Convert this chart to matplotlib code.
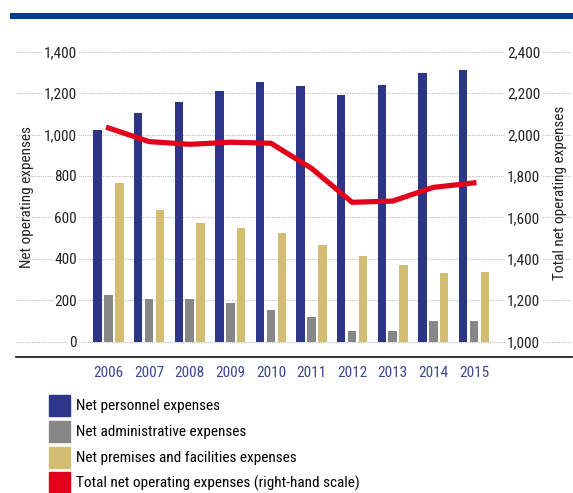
import matplotlib
matplotlib.use("Agg")
import matplotlib.pyplot as plt
from matplotlib import font_manager
from matplotlib.patches import Patch, Rectangle
import numpy as np

years = ["2006", "2007", "2008", "2009", "2010", "2011", "2012", "2013", "2014", "2015"]
personnel = [1022, 1102, 1155, 1208, 1256, 1233, 1193, 1238, 1298, 1313]
administrative = [227, 208, 204, 187, 155, 118, 50, 53, 98, 100]
premises = [765, 637, 574, 550, 525, 467, 412, 369, 333, 337]
total = [2032, 1966, 1953, 1963, 1958, 1837, 1673, 1679, 1745, 1767]

labels = ["Net personnel expenses", "Net administrative expenses",
          "Net premises and facilities expenses",
          "Total net operating expenses (right-hand scale)"]

c_blue = "#2d3588"
c_grey = "#878787"
c_tan = "#d3bd72"
c_red = "#e2001a"
c_rule = "#003b8e"
c_year = "#3a4597"

# pick a narrow font if one is there
names = set(f.name for f in font_manager.fontManager.ttflist)
family = "DejaVu Sans"
for cand in ["Liberation Sans Narrow", "Roboto Condensed", "Open Sans Condensed", "Lato"]:
    if cand in names:
        family = cand
        break
plt.rcParams["font.family"] = [family, "DejaVu Sans"]

W, H, DPI = 573, 493, 100
fig = plt.figure(figsize=(W / DPI, H / DPI), dpi=DPI)

def px(v):
    return v * 72.0 / DPI

# axes placement in pixels
left, right, top, bottom = 16, 572, 30, 356.7
ax = fig.add_axes([left / W, 1 - bottom / H, (right - left) / W, (bottom - top) / H])

x = np.arange(len(years))
w = 0.207
off = 0.268
ax.bar(x - off, personnel, w, color=c_blue, zorder=2)
ax.bar(x, administrative, w, color=c_grey, zorder=2)
ax.bar(x + off, premises, w, color=c_tan, zorder=2)

ax.set_xlim((left - 108.5) / 40.6, (right - 108.5) / 40.6)
ylo, yhi = -72.4, 1504.8
ax.set_ylim(ylo, yhi)
ax.set_yticks(range(0, 1401, 200))
ax.set_yticklabels([f"{v:,}" for v in range(0, 1401, 200)])
ax.set_xticks(x)
ax.set_xticklabels(years, color=c_year, fontsize=11)

ax.grid(axis="y", color="#bdbdbd", linestyle=(0, (1, 1)), linewidth=0.8, zorder=0)
ax.set_axisbelow(True)
for s in ["left", "right", "top"]:
    ax.spines[s].set_visible(False)
ax.spines["bottom"].set_linewidth(1.2)
ax.spines["bottom"].set_color("#111111")
ax.tick_params(axis="x", length=0, pad=px(9))
ax.tick_params(axis="y", length=0, pad=-px(61), labelsize=11, colors="#222222")
for lbl in ax.get_yticklabels():
    lbl.set_bbox(dict(facecolor="white", edgecolor="none", pad=1.2))

ax2 = ax.twinx()
ax2.set_position(ax.get_position())
ax2.plot(x, total, color=c_red, linewidth=px(5.2), solid_joinstyle="miter", zorder=3)
ax2.set_ylim(ylo + 1000, yhi + 1000)
ax2.set_yticks(range(1000, 2401, 200))
ax2.set_yticklabels([f"{v:,}" for v in range(1000, 2401, 200)])
for s in ["left", "right", "top", "bottom"]:
    ax2.spines[s].set_visible(False)
ax2.tick_params(axis="y", length=0, pad=-px(65), labelsize=11, colors="#222222")
for lbl in ax2.get_yticklabels():
    lbl.set_horizontalalignment("left")
    lbl.set_bbox(dict(facecolor="white", edgecolor="none", pad=1.2))

fig.text(27.5 / W, 1 - 197 / H, "Net operating expenses", rotation=90,
         ha="center", va="center", fontsize=11, color="#222222")
fig.text(560 / W, 1 - 193 / H, "Total net operating expenses", rotation=90,
         ha="center", va="center", fontsize=11, color="#222222")

# top rule
fig.add_artist(Rectangle((10 / W, 1 - 19 / H), (W - 10) / W, 5.7 / H,
                         transform=fig.transFigure, color=c_rule, linewidth=0))

handles = [Patch(color=c) for c in [c_blue, c_grey, c_tan, c_red]]
fs = 11
em = fs * DPI / 72.0
fig.legend(handles, labels, loc="upper left", bbox_to_anchor=(49 / W, 1 - 395 / H),
           frameon=False, fontsize=fs, handlelength=21 / em, handleheight=1.738,
           labelspacing=4.8 / em, handletextpad=6 / em, borderpad=0, borderaxespad=0)

fig.savefig("out.png", dpi=DPI)
